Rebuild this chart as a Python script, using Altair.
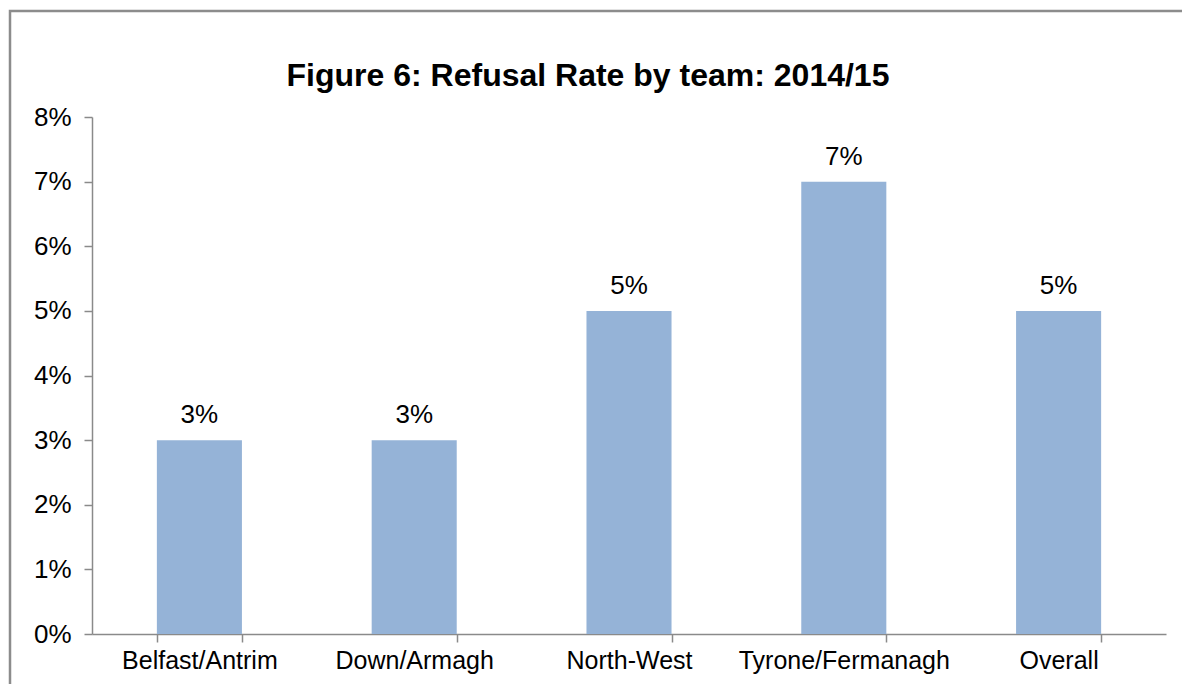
import altair as alt
import pandas as pd

teams = ["Belfast/Antrim", "Down/Armagh", "North-West", "Tyrone/Fermanagh", "Overall"]
rates = [0.03, 0.03, 0.05, 0.07, 0.05]
y_ticks = [0, 0.01, 0.02, 0.03, 0.04, 0.05, 0.06, 0.07, 0.08]
title_text = "Figure 6: Refusal Rate by team: 2014/15"

df = pd.DataFrame({"team": teams, "rate": rates})

FONT = "Liberation Sans"
AXIS_GREY = "#8a8a8a"

x_enc = alt.X(
    "team:N",
    sort=teams,
    title=None,
    scale=alt.Scale(paddingInner=0.604, paddingOuter=0.302),
    axis=alt.Axis(
        tickBand="extent",
        labelAngle=0,
        labelFontSize=25,
        labelFont=FONT,
        labelColor="black",
        labelPadding=6,
        labelLimit=0,
        domainColor=AXIS_GREY,
        tickColor=AXIS_GREY,
        tickSize=8,
        domainWidth=1.5,
        tickWidth=1.5,
    ),
)
y_enc = alt.Y(
    "rate:Q",
    title=None,
    scale=alt.Scale(domain=[0, 0.08], nice=False),
    axis=alt.Axis(
        values=y_ticks,
        format=".0%",
        grid=False,
        labelFontSize=26,
        labelFont=FONT,
        labelColor="black",
        labelPadding=13,
        domainColor=AXIS_GREY,
        tickColor=AXIS_GREY,
        tickSize=8,
        domainWidth=1.5,
        tickWidth=1.5,
    ),
)

bars = alt.Chart(df).mark_bar(color="#95B3D7").encode(x=x_enc, y=y_enc)

labels = alt.Chart(df).mark_text(
    baseline="alphabetic", dy=-17, fontSize=26, font=FONT, color="black"
).encode(x=alt.X("team:N", sort=teams), y="rate:Q", text=alt.Text("rate:Q", format=".0%"))

one = pd.DataFrame({"t": [title_text]})

border = alt.Chart(one).mark_rect(
    filled=False, stroke="#8c8c8c", strokeWidth=2.5
).encode(
    x=alt.value(-82), x2=alt.value(1200), y=alt.value(-106), y2=alt.value(700)
)

title = alt.Chart(one).mark_text(
    fontSize=32, font=FONT, fontWeight="bold", color="black",
    align="center", baseline="alphabetic"
).encode(x=alt.value(496), y=alt.value(-31), text="t:N")

chart = (
    alt.layer(border, title, bars, labels, view=alt.ViewBackground(strokeWidth=0, stroke="transparent"))
    .properties(
        width=1074,
        height=517,
        autosize=alt.AutoSizeParams(type="none"),
        padding={"left": 84, "top": 109, "right": 16, "bottom": 50},
    )
    .configure(background="white", view=alt.ViewConfig(stroke="transparent", strokeWidth=0))
)

chart.save("out.html", embed_options={"renderer": "svg", "actions": False})
